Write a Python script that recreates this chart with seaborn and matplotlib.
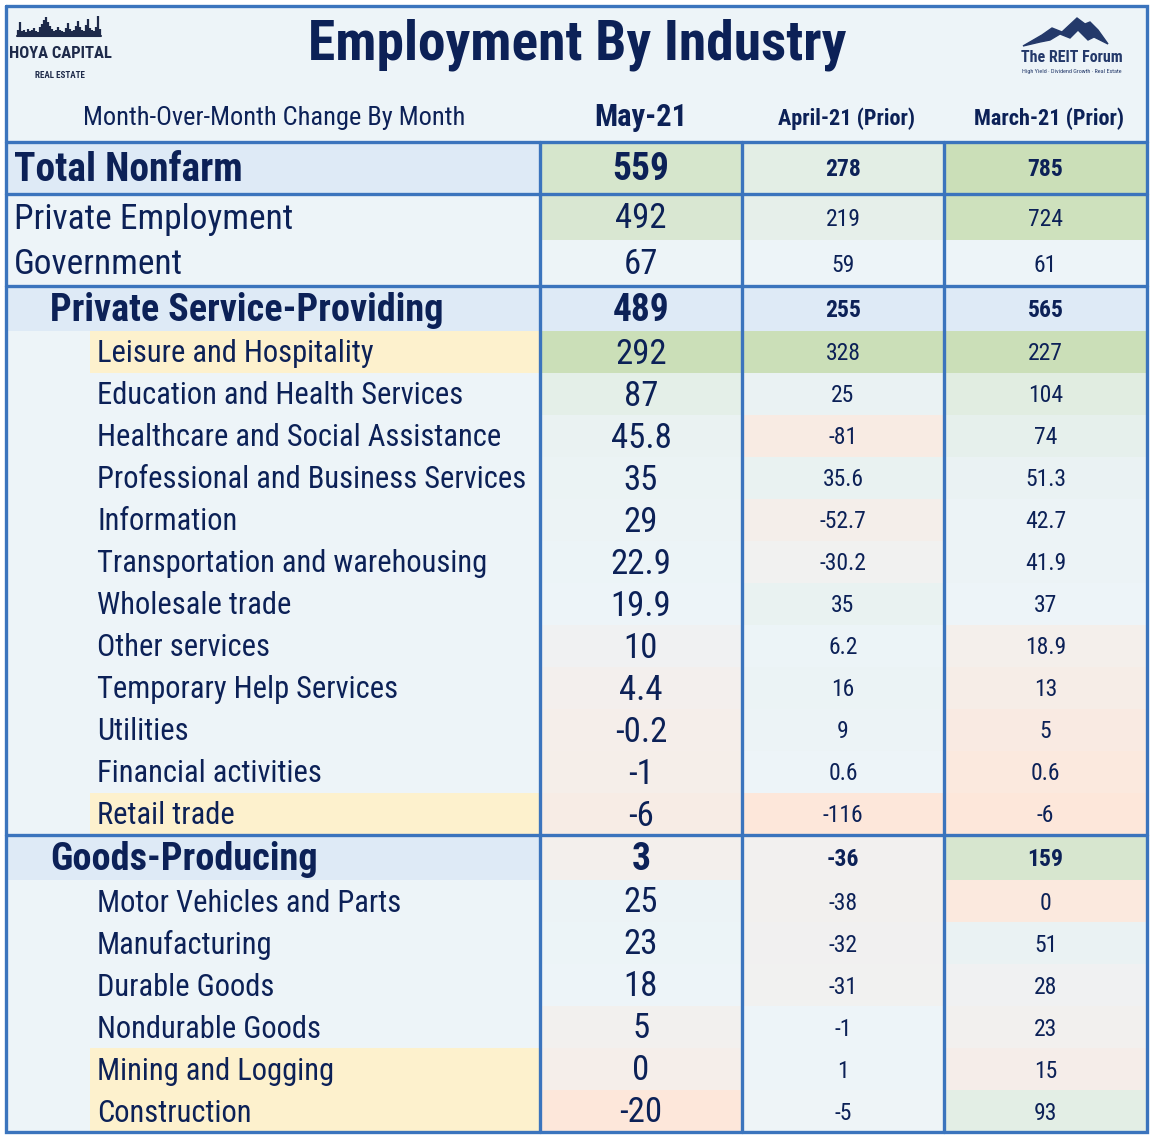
import matplotlib
matplotlib.use("Agg")
import matplotlib.pyplot as plt
import seaborn as sns
import numpy as np
import pandas as pd
from matplotlib import font_manager as fm
from matplotlib.colors import Normalize, TwoSlopeNorm

# ---------------- data ----------------
title = "Employment By Industry"
subtitle = "Month-Over-Month Change By Month"
col_headers = ["May-21", "April-21 (Prior)", "March-21 (Prior)"]

labels = ["Total Nonfarm", "Private Employment", "Government",
          "Private Service-Providing", "Leisure and Hospitality",
          "Education and Health Services", "Healthcare and Social Assistance",
          "Professional and Business Services", "Information",
          "Transportation and warehousing", "Wholesale trade", "Other services",
          "Temporary Help Services", "Utilities", "Financial activities",
          "Retail trade", "Goods-Producing", "Motor Vehicles and Parts",
          "Manufacturing", "Durable Goods", "Nondurable Goods",
          "Mining and Logging", "Construction"]
row_kind = (["total", "top", "top", "section"] + ["detail"] * 12
            + ["section"] + ["detail"] * 6)
scale_group = (["headline"] * 3 + [None] + ["detail"] * 12
               + ["detail"] + ["detail"] * 6)
highlighted = ["Leisure and Hospitality", "Retail trade",
               "Mining and Logging", "Construction"]

may_21 = [559, 492, 67, 489, 292, 87, 45.8, 35, 29, 22.9, 19.9, 10, 4.4,
          -0.2, -1, -6, 3, 25, 23, 18, 5, 0, -20]
april_21 = [278, 219, 59, 255, 328, 25, -81, 35.6, -52.7, -30.2, 35, 6.2,
            16, 9, 0.6, -116, -36, -38, -32, -31, -1, 1, -5]
march_21 = [785, 724, 61, 565, 227, 104, 74, 51.3, 42.7, 41.9, 37, 18.9,
            13, 5, 0.6, -6, 159, 0, 51, 28, 23, 15, 93]

df = pd.DataFrame({"label": labels, "kind": row_kind, "group": scale_group,
                   col_headers[0]: may_21, col_headers[1]: april_21,
                   col_headers[2]: march_21})

# ---------------- style ----------------
sns.set_theme(style="white")
avail = {f.name for f in fm.fontManager.ttflist}


def pick(*names):
    for n in names:
        if n in avail:
            return n
    return "DejaVu Sans"


NARROW = pick("Liberation Sans Narrow", "DejaVu Sans Condensed",
              "Roboto Condensed", "Noto Sans Condensed", "Liberation Sans")
plt.rcParams["font.family"] = [NARROW, "DejaVu Sans"]

TEXT = "#0C2157"
BORDER = "#3B74BD"
BG = "#EDF4F8"
SHADE = "#DEEAF6"
YELLOW = "#FDF1CD"
GREEN = "#CBDFB8"
ORANGE = "#FDE7DA"

W, H = 1154, 1142
fig = plt.figure(figsize=(W / 100, H / 100), dpi=100)
fig.patch.set_facecolor("white")
ax = fig.add_axes([0, 0, 1, 1])
ax.set_xlim(0, W)
ax.set_ylim(H, 0)
ax.axis("off")

# layout
left, right, top, bottom_hdr = 6, 1147, 6, 142
label_end = 540
col_edges = [540, 742, 944, 1147]
kind_height = {"total": 52, "top": 46, "section": 45, "detail": 42}
heights = np.array([kind_height[k] for k in df["kind"]], dtype=float)
row_top = bottom_hdr + np.concatenate([[0], np.cumsum(heights)[:-1]])
row_ctr = row_top + heights / 2
bottom = row_top[-1] + heights[-1]

# background
ax.barh(y=(top + bottom) / 2, width=right - left, left=left,
        height=bottom - top, color=BG, linewidth=0, zorder=0)

# label cell backgrounds
label_colors, label_lefts = [], []
for lab, kind in zip(df["label"], df["kind"]):
    if kind in ("total", "section"):
        label_colors.append(SHADE)
        label_lefts.append(left)
    elif lab in highlighted:
        label_colors.append(YELLOW)
        label_lefts.append(90)
    else:
        label_colors.append(BG)
        label_lefts.append(left)
label_lefts = np.array(label_lefts, dtype=float)
ax.barh(y=row_ctr, width=label_end - label_lefts, left=label_lefts,
        height=heights, color=label_colors, linewidth=0, zorder=1)

# numeric cell colours (colour scales)
cmap_head = sns.blend_palette([BG, GREEN], as_cmap=True)
cmap_div = sns.blend_palette([ORANGE, BG, GREEN], as_cmap=True)
head_mask = (df["group"] == "headline").values
det_mask = (df["group"] == "detail").values
head_vals = df.loc[head_mask, col_headers].values
head_norm = Normalize(head_vals.min(), head_vals.max())

for j, col in enumerate(col_headers):
    vals = df[col].values.astype(float)
    dv = vals[det_mask]
    dnorm = TwoSlopeNorm(vcenter=float(np.median(dv)), vmin=dv.min(),
                         vmax=dv.max())
    colors = []
    for v, g in zip(vals, df["group"]):
        if g == "headline":
            colors.append(cmap_head(head_norm(v)))
        elif g == "detail":
            colors.append(cmap_div(dnorm(v)))
        else:
            colors.append(SHADE)
    ax.barh(y=row_ctr, width=col_edges[j + 1] - col_edges[j],
            left=col_edges[j], height=heights, color=colors, linewidth=0,
            zorder=1)

# ---------------- text ----------------
ax.text(577, 45, title, ha="center", va="center", fontsize=40,
        fontweight="bold", color=TEXT)
ax.text(83, 118, subtitle, ha="left", va="center", fontsize=19, color=TEXT)
col_ctr = [(col_edges[i] + col_edges[i + 1]) / 2 for i in range(3)]
ax.text(col_ctr[0], 117, col_headers[0], ha="center", va="center",
        fontsize=22, fontweight="bold", color=TEXT)
for j in (1, 2):
    ax.text(col_ctr[j] + 3, 119, col_headers[j], ha="center", va="center",
            fontsize=16, fontweight="bold", color=TEXT)

label_x = {"total": 14, "top": 14, "section": 50, "detail": 97}
label_fs = {"total": 28.5, "top": 25.5, "section": 27.5, "detail": 22.0}
main_fs = {"total": 27, "top": 25, "section": 27, "detail": 25}
for i, row in df.iterrows():
    k = row["kind"]
    bold = "bold" if k in ("total", "section") else "normal"
    ax.text(label_x[k], row_ctr[i] + 2, row["label"], ha="left",
            va="center", fontsize=label_fs[k], fontweight=bold, color=TEXT,
            zorder=3)
    for j, col in enumerate(col_headers):
        fs = main_fs[k] if j == 0 else 17
        ax.text(col_ctr[j], row_ctr[i] + 2, f"{row[col]:g}", ha="center",
                va="center", fontsize=fs, fontweight=bold, color=TEXT,
                zorder=3)

# ---------------- grid lines ----------------
lw = 2.4
ax.plot([left, right, right, left, left], [top, top, bottom, bottom, top],
        color=BORDER, lw=lw, zorder=4, solid_joinstyle="miter")
sep_rows = [0, 1, 3, 16]
for r in sep_rows:
    ax.plot([left, right], [row_top[r], row_top[r]], color=BORDER, lw=lw,
            zorder=4)
for x in col_edges[:-1]:
    ax.plot([x, x], [bottom_hdr, bottom], color=BORDER, lw=lw, zorder=4)

# ---------------- logos (decoration) ----------------
LOGO = "#1E2A4A"
sky_x = np.linspace(18, 100, 42)
sky_h = np.array([6, 14, 5, 6, 4, 7, 5, 6, 8, 5, 4, 9, 12, 16, 19, 14, 10,
                  7, 5, 6, 9, 6, 5, 4, 8, 13, 7, 5, 6, 10, 15, 9, 6, 5,
                  11, 17, 8, 6, 5, 9, 20, 7], dtype=float)
ax.vlines(sky_x, 36 - sky_h, 36, color=LOGO, lw=1.6, zorder=3)
ax.plot([17, 101], [36, 36], color=LOGO, lw=1.5, zorder=3)
ax.text(60, 53, "HOYA CAPITAL", ha="center", va="center", fontsize=12,
        fontweight="bold", color=LOGO, zorder=3)
ax.text(60, 75, "REAL ESTATE", ha="center", va="center", fontsize=6.5,
        fontweight="bold", color=LOGO, zorder=3)

mx = [1023, 1042, 1052, 1062, 1077, 1085, 1090, 1098, 1108, 1094, 1088,
      1078, 1070, 1060, 1050, 1040]
my = [46, 35, 28, 32, 18, 24, 22, 30, 44, 37, 40, 30, 38, 34, 40, 42]
ax.fill(mx, my, color="#24396A", zorder=3)
ax.text(1072, 57, "The REIT Forum", ha="center", va="center", fontsize=11.5,
        fontweight="bold", color="#24396A", zorder=3)
ax.text(1072, 71, "High Yield \u00b7 Dividend Growth \u00b7 Real Estate",
        ha="center", va="center", fontsize=4.4, color="#24396A", zorder=3)

fig.savefig("out.png", dpi=100, facecolor="white")
